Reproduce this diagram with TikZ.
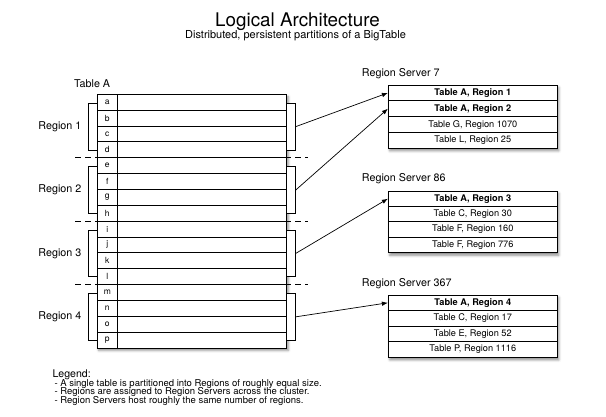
\documentclass[tikz,border=0pt]{standalone}
\usepackage{fontspec}
\setmainfont{TeX Gyre Heros}
\usetikzlibrary{shadows.blur,arrows.meta}
\begin{document}
\begin{tikzpicture}[x=1pt,y=-1pt,
 cell/.style={draw, line width=0.8pt, fill=white, inner sep=0pt, minimum height=15.85pt, font=\fontsize{8.5}{9}\selectfont},
 letter/.style={cell, minimum width=20pt},
 content/.style={cell, minimum width=169.4pt},
 srow/.style={draw, line width=0.8pt, fill=white, inner sep=0pt, minimum width=169pt, font=\fontsize{9.2}{10}\selectfont},
 bracket/.style={draw, line width=0.8pt, fill=white, inner sep=0pt, minimum width=8.6pt, minimum height=46.7pt},
 sepline/.style={dash pattern=on 5.5pt off 4.5pt, line width=0.8pt},
 link/.style={-{Latex[length=6pt,width=4.5pt]}, line width=0.7pt},
 shadowbox/.style={fill=white, inner sep=0pt, blur shadow={shadow xshift=1.5pt, shadow yshift=-2.5pt, shadow blur radius=2.5pt, shadow opacity=45}},
 lbl/.style={font=\fontsize{10.75}{12}\selectfont, inner sep=0pt},
 legendtxt/.style={font=\fontsize{9.5}{9}\selectfont, inner sep=0pt, anchor=west}
]
\useasboundingbox (0,0) rectangle (606,417);

% title
\node[font=\fontsize{18.8}{20}\selectfont, inner sep=0pt] (title) at (297.5,21.7) {Logical Architecture};
\node[font=\fontsize{11}{12}\selectfont, inner sep=0pt] (subtitle) at (295.5,35.7) {Distributed, persistent partitions of a BigTable};

% dashed separators
\foreach \y [count=\k] in {157.7,221.1,284.5} {
  \coordinate (dl\k) at (75,\y);
  \coordinate (dr\k) at (308,\y);
  \draw[sepline] (dl\k) -- (dr\k);
}

% table shadow (behind brackets)
\node[lbl, anchor=west] (tablelabel) at (74,83.3) {Table A};
\node[shadowbox, minimum width=189.4pt, minimum height=253.6pt] (tablebg) at (192,221.1) {};

% brackets
\foreach \k in {1,2,3,4} {
  \node[bracket] (lb\k) at (92.8,{126.65+63.4*(\k-1)}) {};
  \node[bracket] (rb\k) at (291,{126.65+63.4*(\k-1)}) {};
  \node[lbl, anchor=east] (rl\k) at ([xshift=-6.6pt]lb\k.west) {Region \k};
}

% table rows
\foreach \l [count=\i from 0] in {a,b,c,d,e,f,g,h,i,j,k,l,m,n,o,p} {
  \node[letter] (L\l) at (107.3,{94.3+(\i+0.5)*15.85}) {\l};
  \node[content] (C\l) at (202,{94.3+(\i+0.5)*15.85}) {};
}

% Region Server 7
\node[lbl, anchor=west] (rs7) at (361.7,73.3) {Region Server 7};
\node[shadowbox, minimum width=169pt, minimum height=63.3pt] (bg7) at (472.8,116.65) {};
\node[srow, minimum height=15.83pt] (s7a) at (472.8,92.9) {\bfseries Table A, Region 1};
\node[srow, minimum height=15.83pt] (s7b) at (472.8,108.7) {\bfseries Table A, Region 2};
\node[srow, minimum height=15.83pt] (s7c) at (472.8,124.6) {Table G, Region 1070};
\node[srow, minimum height=15.83pt] (s7d) at (472.8,140.4) {Table L, Region 25};

% Region Server 86
\node[lbl, anchor=west] (rs86) at (361.7,178.3) {Region Server 86};
\node[shadowbox, minimum width=169pt, minimum height=61.8pt] (bg86) at (472.8,221.9) {};
\node[srow, minimum height=15.45pt] (s86a) at (472.8,198.7) {\bfseries Table A, Region 3};
\node[srow, minimum height=15.45pt] (s86b) at (472.8,214.2) {Table C, Region 30};
\node[srow, minimum height=15.45pt] (s86c) at (472.8,229.6) {Table F, Region 160};
\node[srow, minimum height=15.45pt] (s86d) at (472.8,245.1) {Table F, Region 776};

% Region Server 367
\node[lbl, anchor=west] (rs367) at (361.7,283.3) {Region Server 367};
\node[shadowbox, minimum width=169pt, minimum height=62.4pt] (bg367) at (472.8,326.2) {};
\node[srow, minimum height=15.6pt] (s367a) at (472.8,302.8) {\bfseries Table A, Region 4};
\node[srow, minimum height=15.6pt] (s367b) at (472.8,318.4) {Table C, Region 17};
\node[srow, minimum height=15.6pt] (s367c) at (472.8,334) {Table E, Region 52};
\node[srow, minimum height=15.6pt] (s367d) at (472.8,349.6) {Table P, Region 1116};

% arrows
\draw[link] (rb1.east) -- (s7a.west);
\draw[link] (rb2.east) -- (s7b.west);
\draw[link] (rb3.east) -- (s86a.west);
\draw[link] (rb4.east) -- (s367a.west);

% legend
\node[lbl, anchor=west, font=\fontsize{10.6}{12}\selectfont] (leg) at (52.3,374.3) {Legend:};
\node[legendtxt] (leg1) at (54.3,384.3) {- A single table is partitioned into Regions of roughly equal size.};
\node[legendtxt] (leg2) at (54.3,392.4) {- Regions are assigned to Region Servers across the cluster.};
\node[legendtxt] (leg3) at (54.3,400.7) {- Region Servers host roughly the same number of regions.};
\end{tikzpicture}
\end{document}
